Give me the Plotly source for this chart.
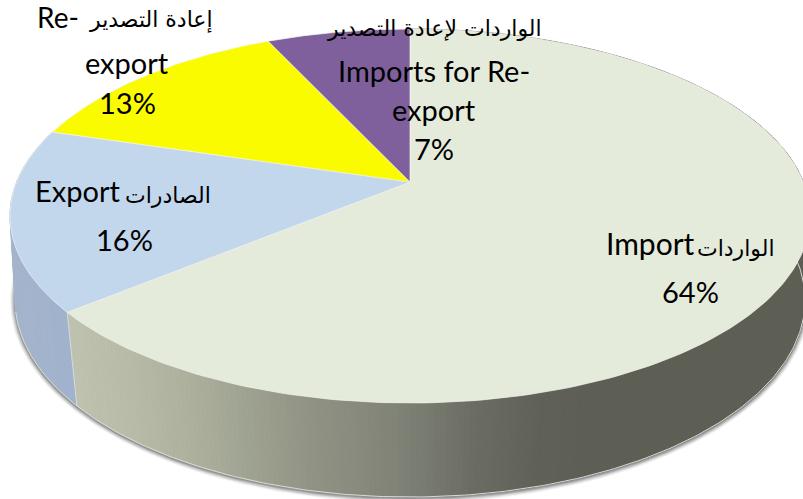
import numpy as np
import plotly.graph_objects as go

categories = ["Import", "Export", "Re-export", "Imports for Re-export"]
values = [64, 15.7, 13.4, 6.9]
top_colors = ["#e5ebda", "#c2d6ec", "#fbfb00", "#7f609c"]

# Side shading read along the x axis
import_side_x = [67, 130, 200, 300, 400, 480, 540, 600, 810]
import_side_rgb = [(192, 195, 176), (183, 187, 168), (170, 174, 155), (147, 150, 134),
                   (127, 130, 118), (106, 108, 98), (96, 97, 88), (93, 94, 84), (93, 94, 84)]
export_side_x = [10, 75]
export_side_rgb = [(165, 181, 205), (160, 178, 204)]

# Text: (text, x, y, font family, size)
LAT, ARA = "Lato", "DejaVu Sans"
labels = [
    ("الواردات", 736, 248, ARA, 22),
    ("Import", 650, 243, LAT, 30),
    ("64%", 690, 291, LAT, 29),
    ("الصادرات", 168, 195, ARA, 22),
    ("Export", 77, 190, LAT, 29),
    ("16%", 124, 239, LAT, 29),
    ("إعادة التصدير", 151, 20, ARA, 22),
    ("Re-", 58, 17, LAT, 28),
    ("export", 127, 62, LAT, 29),
    ("13%", 127, 102, LAT, 29),
    ("الواردات لإعادة التصدير", 434, 28, ARA, 22),
    ("Imports for Re-", 434, 70, LAT, 29),
    ("export", 434, 109, LAT, 29),
    ("7%", 434, 148, LAT, 29),
]

# Projection of the pie disc on the page
CX, CY, RX, RY, AY = 410.0, 216.0, 400.0, 187.0, 34.0
BX, BY, BRX, BRY = 410.0, 300.0, 395.0, 197.0
k = AY * 2 / (2 * RY)
c = RX * np.sqrt(1 - k * k)


def rim(theta):
    d = 1 + k * np.cos(theta)
    return c * np.sin(theta) / d / RX, (RY * np.cos(theta) + AY) / d / RY


def top_xy(theta):
    u, v = rim(theta)
    return CX + RX * u, CY - RY * v


def bottom_xy(theta, grow=0.0):
    # vertical wall edges lean slightly towards the front of the pie
    u, v = rim(theta + 0.03 * np.sin(theta))
    return BX + (BRX + grow) * u, BY - (BRY + grow) * v


def mix(xv, xs, rgbs):
    return "rgb(%d,%d,%d)" % tuple(np.interp(xv, xs, [p[i] for p in rgbs]) for i in range(3))


fracs = np.array(values, float) / sum(values)
edges = np.concatenate([[0], np.cumsum(fracs)]) * 2 * np.pi

fig = go.Figure()

# soft shadow round the base
for grow, alpha in [(5, 0.06), (4, 0.10), (3, 0.14), (2, 0.2), (1, 0.26)]:
    t = np.linspace(0.15, 2 * np.pi * 0.8, 300)
    x, y = bottom_xy(t, grow)
    fig.add_trace(go.Scatter(x=x, y=y + 1, mode="lines", line=dict(width=0), fill="toself",
                             fillcolor=f"rgba(70,70,70,{alpha})", hoverinfo="skip"))

# side wall strips
side_specs = [(0, import_side_x, import_side_rgb, 320), (1, export_side_x, export_side_rgb, 24)]
for idx, xs, rgbs, n in side_specs:
    ts = np.linspace(edges[idx], edges[idx + 1], n + 1)
    for a, b in zip(ts[:-1], ts[1:]):
        seg = np.linspace(a, b, 3)
        tx, ty = top_xy(seg)
        bx, by = bottom_xy(seg)
        col = mix(float(tx.mean()), xs, rgbs)
        fig.add_trace(go.Scatter(x=np.r_[tx, bx[::-1]], y=np.r_[ty, by[::-1]], mode="lines",
                                 line=dict(width=1, color=col), fill="toself", fillcolor=col,
                                 hoverinfo="skip"))

# light rim along the visible part of the bottom edge and the wall joint
t = np.linspace(0.45, 4.5, 300)
x, y = bottom_xy(t)
fig.add_trace(go.Scatter(x=x, y=y, mode="lines", line=dict(width=1, color="#d9dad4"), hoverinfo="skip"))
jt = np.array([edges[1]])
jx0, jy0 = top_xy(jt)
jx1, jy1 = bottom_xy(jt)
fig.add_trace(go.Scatter(x=[jx0[0], jx1[0]], y=[jy0[0], jy1[0]], mode="lines",
                         line=dict(width=1, color="#d5dbe0"), hoverinfo="skip"))

# top faces
ax, ay = 410.0, CY - AY
for i, name in enumerate(categories):
    t = np.linspace(edges[i], edges[i + 1], 200)
    x, y = top_xy(t)
    fig.add_trace(go.Scatter(x=np.r_[ax, x, ax], y=np.r_[ay, y, ay], mode="lines", name=name,
                             line=dict(width=0.7, color="#f2f5f0"), fill="toself",
                             fillcolor=top_colors[i], hoverinfo="skip"))

for text, x, y, fam, size in labels:
    fig.add_annotation(x=x, y=y, text=text, showarrow=False, xanchor="center", yanchor="middle",
                       font=dict(family=fam, size=size, color="#000000"))

fig.update_layout(
    width=803, height=499, margin=dict(l=0, r=0, t=0, b=0), showlegend=False,
    paper_bgcolor="white", plot_bgcolor="white",
    xaxis=dict(range=[0, 803], visible=False, fixedrange=True),
    yaxis=dict(range=[499, 0], visible=False, fixedrange=True),
)
fig.write_html("out.html", config={"displayModeBar": False},
               post_script="document.body.style.margin='0';document.body.style.overflow='hidden';")
